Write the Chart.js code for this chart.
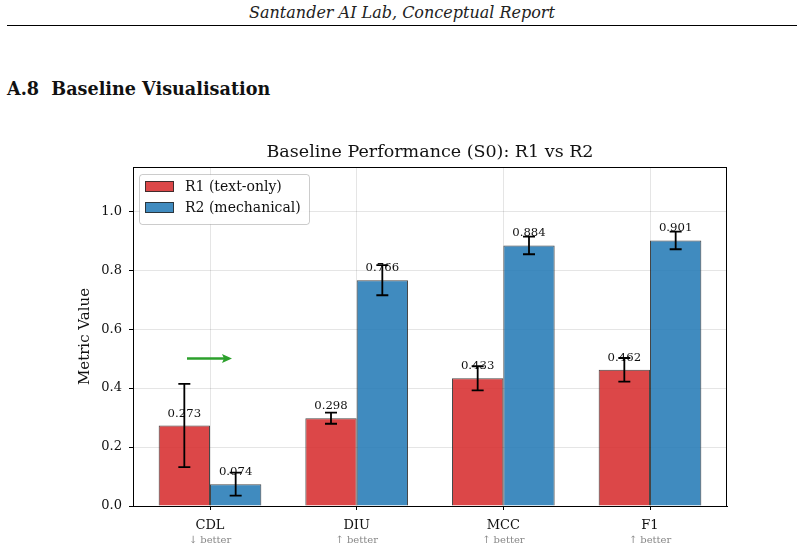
<!DOCTYPE html>
<html>
<head>
<meta charset="utf-8">
<script src="https://cdn.jsdelivr.net/npm/chart.js"></script>
<style>
  body { margin: 0; width: 804px; height: 549px; background: #fff; position: relative; overflow: hidden; font-family: "DejaVu Serif", serif; }
  .running-head { position: absolute; top: 3px; left: 0; width: 804px; text-align: center; font-style: italic; font-size: 16px; color: #222; }
  .rule { position: absolute; top: 25px; left: 7px; width: 790px; height: 1px; background: #000; }
  .section { position: absolute; top: 78px; left: 7px; font-weight: bold; font-size: 17.6px; color: #111; }
  .chart-box { position: absolute; top: 130px; left: 0; width: 804px; height: 419px; }
</style>
</head>
<body>
<div class="running-head">Santander AI Lab, Conceptual Report</div>
<div class="rule"></div>
<div class="section">A.8&nbsp; Baseline Visualisation</div>
<div class="chart-box"><canvas id="baselineChart" width="804" height="419"></canvas></div>
<script>
// Data
const metrics = ["CDL", "DIU", "MCC", "F1"];
const betterHints = ["\u2193 better", "\u2191 better", "\u2191 better", "\u2191 better"];
const r1Values = [0.273, 0.298, 0.433, 0.462];
const r1Errors = [0.141, 0.019, 0.041, 0.040];
const r2Values = [0.074, 0.766, 0.884, 0.901];
const r2Errors = [0.039, 0.051, 0.030, 0.030];
const yTicks = [0, 0.2, 0.4, 0.6, 0.8, 1.0];
const chartTitle = "Baseline Performance (S0): R1 vs R2";

const FONT = "'DejaVu Serif', serif";

// Chart decorations (title, frame, error bars, value labels, legend, hints, arrow)
const decorations = {
  id: "decorations",
  afterDatasetsDraw(chart) {
    const { ctx, chartArea, scales } = chart;
    const x = scales.x, y = scales.y;

    // title centred on the plot area
    ctx.save();
    ctx.font = "17.5px " + FONT;
    ctx.fillStyle = "#111";
    ctx.textAlign = "center";
    ctx.textBaseline = "middle";
    ctx.fillText(chartTitle, (chartArea.left + chartArea.right) / 2, chartArea.top - 15);
    ctx.restore();

    // value labels then error bars
    chart.data.datasets.forEach((ds, di) => {
      const meta = chart.getDatasetMeta(di);
      meta.data.forEach((bar, i) => {
        const v = ds.data[i].y;
        ctx.save();
        ctx.font = "11.7px " + FONT;
        ctx.fillStyle = "#111";
        ctx.textAlign = "center";
        ctx.textBaseline = "middle";
        ctx.fillText(v.toFixed(3), bar.x, y.getPixelForValue(v) - 12);
        ctx.restore();
      });
    });
    chart.data.datasets.forEach((ds, di) => {
      const meta = chart.getDatasetMeta(di);
      meta.data.forEach((bar, i) => {
        const v = ds.data[i].y, e = ds.errors[i];
        const top = y.getPixelForValue(v + e), bot = y.getPixelForValue(v - e);
        ctx.save();
        ctx.strokeStyle = "#000";
        ctx.lineWidth = 1.8;
        ctx.beginPath();
        ctx.moveTo(bar.x, top); ctx.lineTo(bar.x, bot);
        ctx.moveTo(bar.x - 6, top); ctx.lineTo(bar.x + 6, top);
        ctx.moveTo(bar.x - 6, bot); ctx.lineTo(bar.x + 6, bot);
        ctx.stroke();
        ctx.restore();
      });
    });

    // green arrow on CDL
    const ax = x.getPixelForValue(0);
    const ay = y.getPixelForValue(0.5);
    ctx.save();
    ctx.strokeStyle = "#2ca02c";
    ctx.fillStyle = "#2ca02c";
    ctx.lineWidth = 2.5;
    ctx.beginPath();
    ctx.moveTo(ax - 23, ay); ctx.lineTo(ax + 16, ay);
    ctx.stroke();
    ctx.beginPath();
    ctx.moveTo(ax + 22, ay); ctx.lineTo(ax + 12, ay - 4.5); ctx.lineTo(ax + 14, ay); ctx.lineTo(ax + 12, ay + 4.5);
    ctx.closePath();
    ctx.fill();
    ctx.restore();

    // frame
    ctx.save();
    ctx.strokeStyle = "#000";
    ctx.lineWidth = 1;
    ctx.strokeRect(chartArea.left + 0.5, chartArea.top + 0.5, chartArea.right - chartArea.left - 1, chartArea.bottom - chartArea.top);
    ctx.restore();

    // better hints under the categories
    ctx.save();
    ctx.font = "10px " + FONT;
    ctx.fillStyle = "#888";
    ctx.textAlign = "center";
    ctx.textBaseline = "middle";
    betterHints.forEach((h, i) => ctx.fillText(h, x.getPixelForValue(i), chartArea.bottom + 34));
    ctx.restore();

    // legend
    const lx = chartArea.left + 6, ly = chartArea.top + 7, lw = 170, lh = 50;
    ctx.save();
    ctx.fillStyle = "rgba(255,255,255,0.85)";
    ctx.strokeStyle = "rgba(0,0,0,0.2)";
    ctx.lineWidth = 1;
    ctx.beginPath();
    ctx.roundRect(lx + 0.5, ly + 0.5, lw, lh, 3);
    ctx.fill();
    ctx.stroke();
    chart.data.datasets.forEach((ds, di) => {
      const ry = ly + 12 + di * 21;
      ctx.fillStyle = ds.backgroundColor;
      ctx.fillRect(lx + 6, ry - 5, 29, 11);
      ctx.strokeStyle = ds.borderColor;
      ctx.strokeRect(lx + 6.5, ry - 4.5, 28, 10);
      ctx.fillStyle = "#111";
      ctx.font = "14px " + FONT;
      ctx.textBaseline = "middle";
      ctx.fillText(ds.label, lx + 46, ry + 1);
    });
    ctx.restore();
  }
};

new Chart(document.getElementById("baselineChart"), {
  type: "bar",
  data: {
    datasets: [
      { label: "R1 (text-only)", data: r1Values.map((v, i) => ({ x: i, y: v })), errors: r1Errors,
        backgroundColor: "rgba(214,39,40,0.85)", borderColor: "rgba(40,40,40,0.85)", borderWidth: 1 },
      { label: "R2 (mechanical)", data: r2Values.map((v, i) => ({ x: i, y: v })), errors: r2Errors,
        backgroundColor: "rgba(31,119,180,0.85)", borderColor: "rgba(40,40,40,0.85)", borderWidth: 1 }
    ]
  },
  options: {
    responsive: false,
    animation: false,
    layout: { padding: { top: 37, right: 77, bottom: 0, left: 76 } },
    plugins: {
      legend: { display: false },
      tooltip: { enabled: false },
      title: { display: false }
    },
    datasets: { bar: { categoryPercentage: 0.7, barPercentage: 1.0 } },
    scales: {
      x: {
        type: "linear",
        min: -0.525,
        max: 3.525,
        offset: false,
        grid: { offset: false, color: "rgba(0,0,0,0.1)", tickColor: "#000", tickLength: 4 },
        border: { color: "#000" },
        afterBuildTicks(scale) { scale.ticks = metrics.map((m, i) => ({ value: i })); },
        ticks: { color: "#111", font: { family: FONT, size: 13 }, padding: 8,
                 callback: v => metrics[v] },
        afterFit(scale) { scale.height = 43; }
      },
      y: {
        min: 0,
        max: 1.15,
        grid: { color: "rgba(0,0,0,0.1)", tickColor: "#000", tickLength: 4 },
        border: { color: "#000" },
        ticks: { color: "#111", font: { family: FONT, size: 13 }, padding: 7,
                 callback: v => v.toFixed(1) },
        afterBuildTicks(scale) { scale.ticks = yTicks.map(v => ({ value: v })); },
        title: { display: true, text: "Metric Value", color: "#111",
                 font: { family: FONT, size: 15 }, padding: { top: 0, bottom: 0 } },
        afterFit(scale) { scale.width = 57; }
      }
    }
  },
  plugins: [decorations]
});
</script>
</body>
</html>
